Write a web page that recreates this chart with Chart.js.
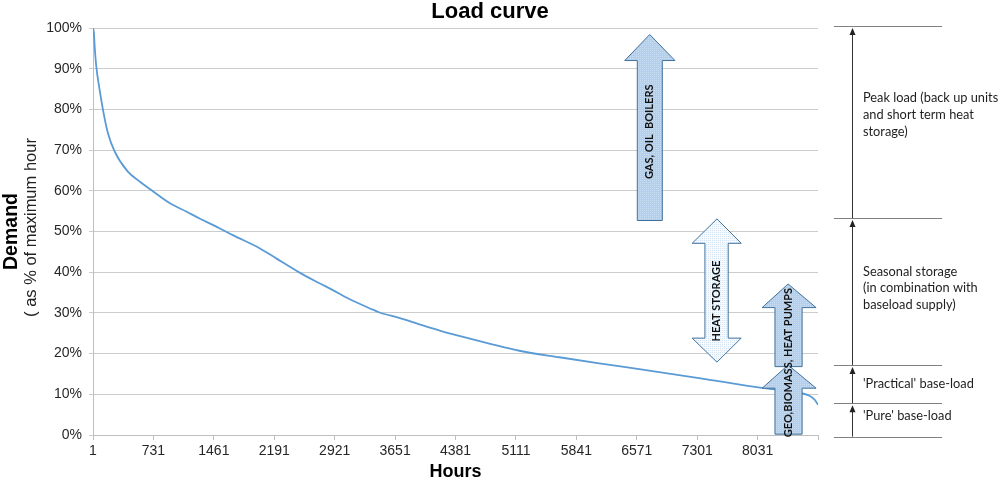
<!DOCTYPE html>
<html>
<head>
<meta charset="utf-8">
<script src="https://cdn.jsdelivr.net/npm/chart.js@4"></script>
<style>
  html, body { margin: 0; padding: 0; background: #ffffff; }
  #wrap { width: 1000px; height: 483px; position: relative; }
</style>
</head>
<body>
<div id="wrap"><canvas id="c" width="1000" height="483"></canvas></div>
<script>
// ---- Data ----
const hours = [1, 12, 21, 41, 81, 129, 181, 262, 422, 564, 705, 926, 1128, 1289, 1530, 1691, 2013, 2214, 2496, 2736, 2898, 3098, 3381, 3462, 3700, 3944, 4200, 4508, 4800, 5151, 5635, 6117, 6600, 7322, 8107, 8530, 8651, 8723, 8760];
const demand = [100, 98.8, 95.5, 90.5, 84.8, 79.1, 74.2, 69.7, 64.7, 62.3, 60.2, 57.0, 54.9, 53.2, 50.8, 49.1, 45.9, 43.4, 39.9, 37.3, 35.6, 33.4, 30.8, 30.1, 28.8, 27.2, 25.6, 23.9, 22.4, 20.7, 19.1, 17.6, 16.2, 14.0, 11.5, 10.4, 9.7, 8.6, 7.4];
const xTickLabels = ['1', '731', '1461', '2191', '2921', '3651', '4381', '5111', '5841', '6571', '7301', '8031'];
const yTickLabels = ['0%', '10%', '20%', '30%', '40%', '50%', '60%', '70%', '80%', '90%', '100%'];
const chartTitle = 'Load curve';
const xTitle = 'Hours';
const yTitleMain = 'Demand';
const yTitleSub = '( as % of maximum hour';
const arrowTexts = ['GAS, OIL  BOILERS', 'HEAT STORAGE', 'GEO,BIOMASS, HEAT PUMPS'];
const bandLabels = [
  ['Peak load (back up units', 'and short term heat', 'storage)'],
  ['Seasonal storage', '(in combination with', 'baseload supply)'],
  ["'Practical' base-load"],
  ["'Pure' base-load"]
];
// band boundaries (percent of maximum hour)
const bandEdges = [100.5, 53.3, 17.2, 7.8, -0.4];

const points = hours.map((h, i) => ({ x: h, y: demand[i] }));
const xTickValues = xTickLabels.map(Number).concat([8760]);

function makePattern(ctx, bg, dot) {
  const c = document.createElement('canvas');
  c.width = 2; c.height = 2;
  const g = c.getContext('2d');
  g.fillStyle = bg; g.fillRect(0, 0, 2, 2);
  g.fillStyle = dot; g.fillRect(0, 0, 1, 1);
  return ctx.createPattern(c, 'repeat');
}

function arrowPath(ctx, X, Y, a) {
  const wl = X(a.wingL), sl = X(a.shaftL), m = X(a.mid), sr = X(a.shaftR), wr = X(a.wingR);
  ctx.beginPath();
  ctx.moveTo(m, Y(a.tip));
  ctx.lineTo(wr, Y(a.wing));
  ctx.lineTo(sr, Y(a.wing));
  if (a.wing2 !== undefined) {
    ctx.lineTo(sr, Y(a.wing2));
    ctx.lineTo(wr, Y(a.wing2));
    ctx.lineTo(m, Y(a.tip2));
    ctx.lineTo(wl, Y(a.wing2));
    ctx.lineTo(sl, Y(a.wing2));
  } else {
    ctx.lineTo(sr, Y(a.bottom));
    ctx.lineTo(sl, Y(a.bottom));
  }
  ctx.lineTo(sl, Y(a.wing));
  ctx.lineTo(wl, Y(a.wing));
  ctx.closePath();
}

const annotations = {
  id: 'annotations',
  afterDatasetsDraw(chart) {
    const ctx = chart.ctx;
    const xs = chart.scales.x, ys = chart.scales.y;
    const X = v => xs.getPixelForValue(v);
    const Y = v => ys.getPixelForValue(v);
    const area = chart.chartArea;
    const blueFill = makePattern(ctx, '#b3cfec', '#c9ddf2');
    const whiteFill = makePattern(ctx, '#f6f9fd', '#d6e5f4');

    const gas = { wingL: 6425, shaftL: 6577, mid: 6727, shaftR: 6879, wingR: 7032, tip: 98.4, wing: 92.0, bottom: 52.7 };
    const heat = { wingL: 7240, shaftL: 7394, mid: 7539, shaftR: 7675, wingR: 7832, tip: 53.1, wing: 47.1, wing2: 23.8, tip2: 17.9 };
    const hpUp = { wingL: 8085, shaftL: 8240, mid: 8399, shaftR: 8568, wingR: 8737, tip: 37.1, wing: 31.3, bottom: 16.8 };
    const hpLow = { wingL: 8085, shaftL: 8240, mid: 8399, shaftR: 8568, wingR: 8737, tip: 17.2, wing: 11.5, bottom: 0.2 };

    ctx.save();
    ctx.lineWidth = 1;
    ctx.strokeStyle = '#41719c';
    [[gas, blueFill], [heat, whiteFill], [hpUp, blueFill], [hpLow, blueFill]].forEach(([a, f]) => {
      arrowPath(ctx, X, Y, a);
      ctx.fillStyle = f;
      ctx.fill();
      ctx.stroke();
    });

    ctx.fillStyle = '#111111';
    ctx.font = 'bold 11px Lato';
    ctx.textAlign = 'center';
    ctx.textBaseline = 'middle';
    [[arrowTexts[0], X(gas.mid), Y(74.5)], [arrowTexts[1], X(heat.mid), Y(32.9)], [arrowTexts[2], X(hpUp.mid), Y(17.8)]].forEach(([t, x, y]) => {
      ctx.save();
      ctx.translate(x, y);
      ctx.rotate(-Math.PI / 2);
      ctx.fillText(t, 0, 0);
      ctx.restore();
    });

    // right-hand bands
    const lx0 = area.right + 16, lx1 = area.right + 124, ax = area.right + 34, tx = area.right + 45;
    ctx.strokeStyle = '#808080';
    ctx.lineWidth = 1;
    bandEdges.forEach(e => {
      const y = Math.round(Y(e)) + 0.5;
      ctx.beginPath(); ctx.moveTo(lx0, y); ctx.lineTo(lx1, y); ctx.stroke();
    });
    ctx.strokeStyle = '#333333';
    ctx.fillStyle = '#222222';
    for (let i = 0; i < bandEdges.length - 1; i++) {
      const yTop = Y(bandEdges[i]) + 2, yBot = Y(bandEdges[i + 1]);
      ctx.beginPath(); ctx.moveTo(ax + 0.5, yBot); ctx.lineTo(ax + 0.5, yTop + 5); ctx.stroke();
      ctx.beginPath();
      ctx.moveTo(ax + 0.5, yTop);
      ctx.lineTo(ax + 3.5, yTop + 7);
      ctx.lineTo(ax - 2.5, yTop + 7);
      ctx.closePath();
      ctx.fill();
    }
    ctx.fillStyle = '#1e1e1e';
    ctx.font = '12.8px Lato';
    ctx.textAlign = 'left';
    ctx.textBaseline = 'middle';
    const bandTextY = [82.8, 40.2, 12.5, 4.7];
    bandLabels.forEach((lines, i) => {
      const y0 = Y(bandTextY[i]);
      lines.forEach((t, j) => ctx.fillText(t, tx, y0 + j * 16.7));
    });

    // titles
    ctx.fillStyle = '#000000';
    ctx.textAlign = 'center';
    ctx.font = 'bold 22px Arial, "Liberation Sans"';
    ctx.fillText(chartTitle, 490, 12);
    ctx.font = 'bold 18px Arial, "Liberation Sans"';
    ctx.fillText(xTitle, (area.left + area.right) / 2, 472);
    ctx.textBaseline = 'alphabetic';
    ctx.save();
    ctx.translate(17, 231.5);
    ctx.rotate(-Math.PI / 2);
    ctx.font = 'bold 19.5px Arial, "Liberation Sans"';
    ctx.fillText(yTitleMain, 0, 0);
    ctx.restore();
    ctx.save();
    ctx.translate(36, 227.5);
    ctx.rotate(-Math.PI / 2);
    ctx.font = '16.5px Arial, "Liberation Sans"';
    ctx.fillStyle = '#222222';
    ctx.fillText(yTitleSub, 0, 0);
    ctx.restore();
    ctx.restore();
  }
};

new Chart(document.getElementById('c'), {
  type: 'line',
  data: {
    datasets: [{
      data: points,
      borderColor: '#5b9bd5',
      borderWidth: 1.8,
      pointRadius: 0,
      fill: false,
      cubicInterpolationMode: 'monotone'
    }]
  },
  options: {
    responsive: false,
    animation: false,
    devicePixelRatio: 1,
    layout: { padding: { left: 0, top: 28, right: 182, bottom: 0 } },
    plugins: { legend: { display: false }, title: { display: false }, tooltip: { enabled: false } },
    scales: {
      x: {
        type: 'linear',
        min: 1,
        max: 8760,
        afterBuildTicks: s => { s.ticks = xTickValues.map(v => ({ value: v })); },
        afterFit: s => { s.height = 48; },
        grid: { display: true, drawOnChartArea: false, drawTicks: true, tickLength: 5, color: '#bfbfbf' },
        border: { display: true, color: '#bfbfbf', width: 1 },
        ticks: {
          autoSkip: false,
          maxRotation: 0,
          padding: 3,
          color: '#262626',
          font: { family: 'Arial, "Liberation Sans"', size: 14 },
          callback: (v, i) => (i < xTickLabels.length ? xTickLabels[i] : '')
        }
      },
      y: {
        min: 0,
        max: 100,
        afterBuildTicks: s => { s.ticks = yTickLabels.map((t, i) => ({ value: i * 10 })); },
        afterFit: s => { s.width = 93; },
        grid: { color: '#cccccc', lineWidth: 1, drawTicks: true, tickLength: 4 },
        border: { display: true, color: '#bfbfbf', width: 1 },
        ticks: {
          padding: 7,
          color: '#262626',
          font: { family: 'Arial, "Liberation Sans"', size: 14 },
          callback: (v, i) => yTickLabels[i]
        }
      }
    }
  },
  plugins: [annotations]
});
</script>
</body>
</html>
